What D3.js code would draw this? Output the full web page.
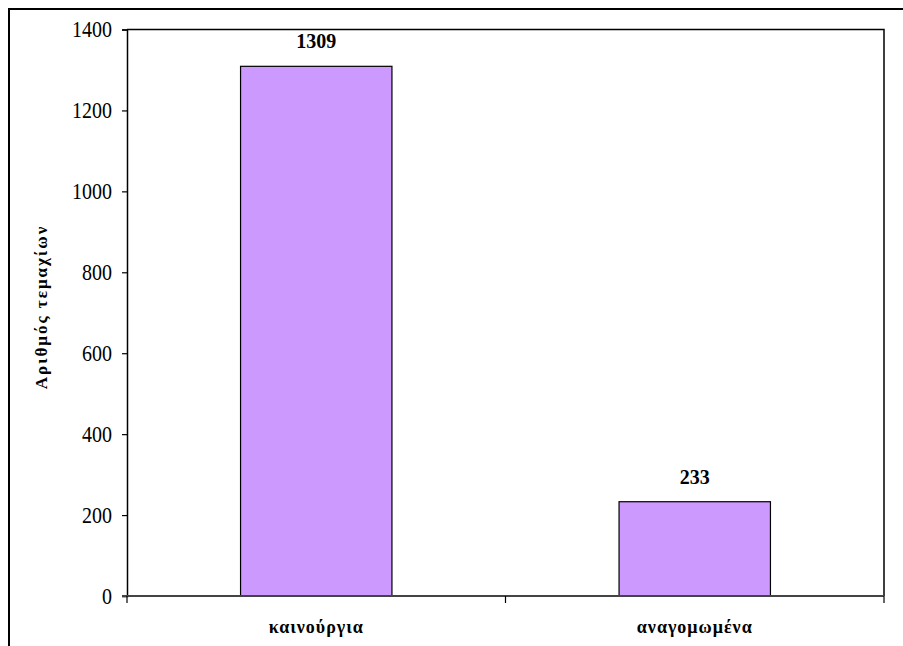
<!DOCTYPE html>
<html>
<head>
<meta charset="utf-8">
<script src="https://cdn.jsdelivr.net/npm/d3@7"></script>
<style>
  html, body { margin: 0; padding: 0; background: #fff; }
  svg { display: block; }
  text { font-family: "Liberation Serif", "Times New Roman", serif; fill: #000; }
</style>
</head>
<body>
<svg id="chart" width="903" height="646"></svg>
<script>
// Item counts: new vs. refilled
const categories = ["καινούργια", "αναγομωμένα"];
const values = [1309, 233];
const yTicks = [0, 200, 400, 600, 800, 1000, 1200, 1400];
const yTitle = "Αριθμός τεμαχίων";

const svg = d3.select("#chart");
const W = 903, H = 646;
const plot = { left: 127, right: 884, top: 29.5, bottom: 596 };

// Outer frame (left and top edges visible)
svg.append("path")
  .attr("d", `M9,${H} L9,9 L${W},9`)
  .attr("fill", "none").attr("stroke", "#000").attr("stroke-width", 2);

const x = d3.scaleBand().domain(categories).range([plot.left, plot.right]).padding(0);
const y = d3.scaleLinear().domain([0, 1400]).range([plot.bottom, plot.top]);
const barW = x.bandwidth() * 0.4;

// Plot area frame: top and right edges
svg.append("path")
  .attr("d", `M${plot.left},${plot.top} L${plot.right},${plot.top} L${plot.right},${plot.bottom}`)
  .attr("fill", "none").attr("stroke", "#000").attr("stroke-width", 1.5);

// Bars
svg.append("g").selectAll("rect")
  .data(categories)
  .join("rect")
  .attr("x", (d) => x(d) + (x.bandwidth() - barW) / 2)
  .attr("y", (d, i) => y(values[i]))
  .attr("width", barW)
  .attr("height", (d, i) => y(0) - y(values[i]))
  .attr("fill", "#CC99FF")
  .attr("stroke", "#000")
  .attr("stroke-width", 1.2);

// Value labels
svg.append("g").selectAll("text")
  .data(categories)
  .join("text")
  .attr("x", (d) => x(d) + x.bandwidth() / 2)
  .attr("y", (d, i) => y(values[i]) - 18)
  .attr("text-anchor", "middle")
  .attr("font-size", 20)
  .attr("font-weight", "bold")
  .text((d, i) => values[i]);

// Y axis
const yAxis = svg.append("g")
  .attr("transform", `translate(${plot.left},0)`)
  .call(d3.axisLeft(y).tickValues(yTicks).tickSize(5).tickPadding(10).tickFormat(d3.format("d")));
yAxis.select(".domain").attr("stroke", "#000").attr("stroke-width", 1.5);
yAxis.selectAll(".tick line").attr("stroke", "#000").attr("stroke-width", 1.2);
yAxis.selectAll(".tick text")
  .attr("font-family", "Liberation Serif, serif")
  .attr("font-size", 20).attr("fill", "#000")
  .attr("transform", "scale(1,1.12)");

// X axis: line with tick marks at category boundaries
const boundaries = categories.map((d) => x(d)).concat([plot.right]);
svg.append("line")
  .attr("x1", plot.left - 5).attr("x2", plot.right)
  .attr("y1", plot.bottom).attr("y2", plot.bottom)
  .attr("stroke", "#444").attr("stroke-width", 2);
svg.append("g").selectAll("line")
  .data(boundaries)
  .join("line")
  .attr("x1", (d) => d).attr("x2", (d) => d)
  .attr("y1", plot.bottom).attr("y2", plot.bottom + 7)
  .attr("stroke", "#000").attr("stroke-width", 1.2);

// Category labels
svg.append("g").selectAll("text")
  .data(categories)
  .join("text")
  .attr("x", (d) => x(d) + x.bandwidth() / 2)
  .attr("y", 633)
  .attr("text-anchor", "middle")
  .attr("font-size", 18)
  .attr("font-weight", "bold")
  .attr("letter-spacing", 1)
  .text((d) => d);

// Y axis title
svg.append("text")
  .attr("transform", `translate(47,307) rotate(-90)`)
  .attr("text-anchor", "middle")
  .attr("font-size", 17)
  .attr("font-weight", "bold")
  .attr("letter-spacing", 2)
  .text(yTitle);
</script>
</body>
</html>
